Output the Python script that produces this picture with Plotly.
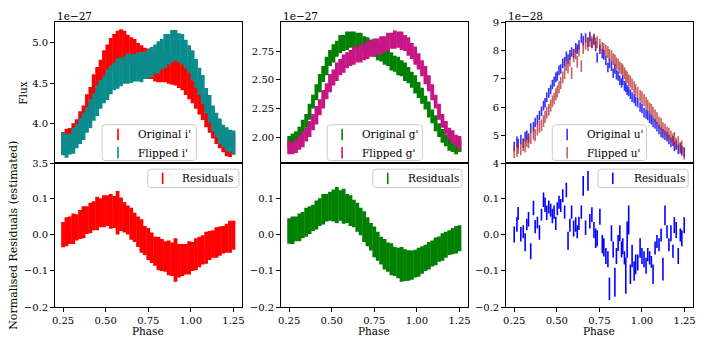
import plotly.graph_objects as go

# phase grid of the dense i' and g' light curves
phase = [0.25, 0.27, 0.29, 0.31, 0.33, 0.35, 0.37, 0.39, 0.41, 0.43,
         0.45, 0.47, 0.49, 0.51, 0.53, 0.55, 0.57, 0.59, 0.61, 0.63,
         0.65, 0.67, 0.69, 0.71, 0.73, 0.75, 0.77, 0.79, 0.81, 0.83,
         0.85, 0.87, 0.89, 0.91, 0.93, 0.95, 0.97, 0.99, 1.01, 1.03,
         1.05, 1.07, 1.09, 1.11, 1.13, 1.15, 1.17, 1.19, 1.21, 1.23, 1.25]

# i' flux (units of 1e-27)
i_orig = [3.76, 3.78, 3.80, 3.84, 3.90, 3.98, 4.06, 4.18, 4.28, 4.42,
          4.52, 4.62, 4.72, 4.80, 4.86, 4.92, 4.94, 4.97, 4.96, 4.92,
          4.90, 4.86, 4.82, 4.80, 4.76, 4.74, 4.72, 4.70, 4.70, 4.69,
          4.68, 4.68, 4.66, 4.64, 4.62, 4.58, 4.54, 4.48, 4.42, 4.36,
          4.28, 4.20, 4.12, 4.04, 3.96, 3.90, 3.84, 3.78, 3.74, 3.72, 3.74]
i_orig_err = [0.13, 0.15, 0.14, 0.16, 0.15, 0.17, 0.16, 0.18, 0.17, 0.19,
              0.18, 0.17, 0.19, 0.18, 0.20, 0.19, 0.21, 0.20, 0.19, 0.18,
              0.17, 0.19, 0.18, 0.17, 0.18, 0.19, 0.17, 0.18, 0.19, 0.18,
              0.17, 0.19, 0.18, 0.17, 0.18, 0.17, 0.19, 0.18, 0.17, 0.18,
              0.17, 0.16, 0.17, 0.16, 0.15, 0.16, 0.15, 0.14, 0.15, 0.14, 0.13]
i_flip = [3.74, 3.72, 3.74, 3.78, 3.84, 3.90, 3.96, 4.04, 4.12, 4.20,
          4.28, 4.36, 4.42, 4.48, 4.54, 4.58, 4.62, 4.64, 4.66, 4.68,
          4.68, 4.69, 4.70, 4.70, 4.72, 4.74, 4.76, 4.80, 4.82, 4.86,
          4.90, 4.92, 4.96, 4.97, 4.94, 4.92, 4.86, 4.80, 4.72, 4.62,
          4.52, 4.42, 4.28, 4.18, 4.06, 3.98, 3.90, 3.84, 3.80, 3.78, 3.76]
i_flip_err = [0.14, 0.15, 0.13, 0.16, 0.15, 0.16, 0.17, 0.16, 0.18, 0.17,
              0.19, 0.18, 0.17, 0.19, 0.18, 0.17, 0.19, 0.18, 0.17, 0.19,
              0.18, 0.17, 0.18, 0.19, 0.17, 0.18, 0.19, 0.18, 0.20, 0.19,
              0.21, 0.19, 0.20, 0.19, 0.18, 0.19, 0.18, 0.17, 0.19, 0.18,
              0.17, 0.18, 0.16, 0.17, 0.16, 0.15, 0.16, 0.14, 0.15, 0.14, 0.15]

# g' flux (units of 1e-27)
g_orig = [1.96, 1.97, 2.00, 2.03, 2.08, 2.14, 2.22, 2.31, 2.39, 2.47,
          2.55, 2.62, 2.69, 2.73, 2.77, 2.81, 2.82, 2.84, 2.85, 2.84,
          2.84, 2.83, 2.81, 2.79, 2.78, 2.77, 2.75, 2.73, 2.71, 2.69,
          2.66, 2.64, 2.62, 2.60, 2.57, 2.54, 2.50, 2.46, 2.41, 2.36,
          2.30, 2.24, 2.18, 2.12, 2.06, 2.01, 1.97, 1.94, 1.92, 1.91, 1.92]
g_orig_err = [0.05, 0.06, 0.05, 0.06, 0.07, 0.06, 0.07, 0.06, 0.07, 0.08,
              0.07, 0.08, 0.07, 0.08, 0.07, 0.08, 0.07, 0.08, 0.07, 0.08,
              0.07, 0.08, 0.07, 0.08, 0.07, 0.07, 0.08, 0.07, 0.08, 0.07,
              0.08, 0.07, 0.08, 0.07, 0.08, 0.07, 0.07, 0.08, 0.07, 0.07,
              0.06, 0.07, 0.06, 0.07, 0.06, 0.06, 0.05, 0.06, 0.05, 0.06, 0.05]
g_flip = [1.91, 1.90, 1.92, 1.95, 1.98, 2.02, 2.07, 2.13, 2.19, 2.26,
          2.33, 2.40, 2.47, 2.52, 2.57, 2.61, 2.64, 2.67, 2.69, 2.71,
          2.72, 2.73, 2.74, 2.76, 2.77, 2.78, 2.79, 2.80, 2.81, 2.83,
          2.84, 2.85, 2.85, 2.84, 2.82, 2.79, 2.75, 2.71, 2.66, 2.60,
          2.54, 2.47, 2.39, 2.31, 2.22, 2.14, 2.08, 2.03, 2.00, 1.97, 1.95]
g_flip_err = [0.06, 0.05, 0.06, 0.06, 0.07, 0.06, 0.07, 0.07, 0.08, 0.07,
              0.08, 0.07, 0.08, 0.07, 0.08, 0.07, 0.08, 0.07, 0.07, 0.08,
              0.07, 0.08, 0.07, 0.08, 0.07, 0.08, 0.07, 0.08, 0.07, 0.08,
              0.07, 0.08, 0.07, 0.08, 0.07, 0.08, 0.07, 0.08, 0.07, 0.07,
              0.08, 0.07, 0.07, 0.06, 0.07, 0.06, 0.06, 0.05, 0.06, 0.05, 0.06]

# normalised residuals of i' and g'
res_i = [0.000, 0.008, 0.012, 0.016, 0.020, 0.028, 0.034, 0.040, 0.046, 0.052,
         0.058, 0.060, 0.064, 0.066, 0.064, 0.062, 0.060, 0.056, 0.048, 0.040,
         0.030, 0.020, 0.008, -0.004, -0.016, -0.026, -0.036, -0.046, -0.052, -0.056,
         -0.060, -0.064, -0.068, -0.070, -0.072, -0.070, -0.068, -0.064, -0.060, -0.054,
         -0.048, -0.042, -0.036, -0.030, -0.026, -0.022, -0.018, -0.014, -0.010, -0.006, -0.002]
res_i_err = [0.035, 0.040, 0.038, 0.042, 0.036, 0.040, 0.044, 0.038, 0.042, 0.040,
             0.046, 0.040, 0.044, 0.042, 0.048, 0.044, 0.060, 0.046, 0.042, 0.040,
             0.044, 0.040, 0.042, 0.046, 0.040, 0.044, 0.042, 0.040, 0.046, 0.044,
             0.042, 0.048, 0.046, 0.060, 0.046, 0.044, 0.042, 0.046, 0.040, 0.044,
             0.042, 0.040, 0.044, 0.040, 0.038, 0.042, 0.040, 0.038, 0.040, 0.044, 0.040]
res_g = [0.010, 0.012, 0.016, 0.020, 0.026, 0.034, 0.040, 0.046, 0.054, 0.062,
         0.070, 0.074, 0.078, 0.080, 0.081, 0.080, 0.078, 0.072, 0.066, 0.058,
         0.048, 0.036, 0.022, 0.008, -0.006, -0.020, -0.032, -0.044, -0.054, -0.062,
         -0.068, -0.074, -0.078, -0.082, -0.084, -0.085, -0.084, -0.080, -0.076, -0.070,
         -0.064, -0.058, -0.052, -0.046, -0.040, -0.034, -0.028, -0.022, -0.018, -0.014, -0.010]
res_g_err = [0.035, 0.038, 0.034, 0.038, 0.036, 0.040, 0.038, 0.036, 0.040, 0.038,
             0.042, 0.038, 0.040, 0.044, 0.050, 0.042, 0.048, 0.040, 0.042, 0.038,
             0.040, 0.038, 0.042, 0.040, 0.038, 0.042, 0.040, 0.038, 0.042, 0.040,
             0.044, 0.040, 0.042, 0.048, 0.044, 0.042, 0.040, 0.038, 0.040, 0.038,
             0.036, 0.038, 0.036, 0.038, 0.035, 0.038, 0.036, 0.034, 0.036, 0.038, 0.036]

# u' is sparser: individual points
phase_u = [0.250, 0.266, 0.273, 0.289, 0.303, 0.314, 0.324, 0.334, 0.347, 0.363,
           0.373, 0.386, 0.398, 0.410, 0.422, 0.431, 0.441, 0.453, 0.464, 0.474,
           0.484, 0.494, 0.503, 0.513, 0.523, 0.535, 0.546, 0.556, 0.566, 0.577,
           0.587, 0.599, 0.611, 0.620, 0.630, 0.644, 0.655, 0.669, 0.683, 0.694,
           0.706, 0.718, 0.728, 0.737, 0.753, 0.767, 0.776, 0.788, 0.800, 0.809,
           0.821, 0.831, 0.841, 0.850, 0.860, 0.870, 0.880, 0.887, 0.897, 0.905,
           0.913, 0.922, 0.932, 0.942, 0.954, 0.963, 0.975, 0.989, 1.000, 1.012,
           1.024, 1.034, 1.045, 1.055, 1.065, 1.077, 1.088, 1.100, 1.112, 1.123,
           1.135, 1.147, 1.158, 1.170, 1.182, 1.190, 1.201, 1.213, 1.225, 1.234, 1.248]
# u' flux (units of 1e-28)
u_orig = [4.60, 4.78, 4.70, 4.85, 4.72, 4.95, 5.00, 4.90, 5.25, 5.30,
          5.45, 5.55, 5.70, 5.85, 6.05, 6.15, 6.35, 6.50, 6.62, 6.80,
          6.90, 7.05, 7.10, 7.30, 7.35, 7.55, 7.60, 7.80, 7.70, 7.85,
          7.95, 7.90, 8.10, 8.05, 8.20, 8.45, 8.35, 8.45, 8.30, 8.50,
          8.25, 8.40, 8.15, 7.75, 8.05, 7.90, 7.85, 7.65, 7.40, 7.55,
          7.45, 7.20, 7.35, 7.15, 7.10, 6.95, 6.85, 6.95, 6.75, 6.70,
          6.60, 6.55, 6.45, 6.35, 6.30, 6.20, 6.15, 6.00, 5.95, 5.80,
          5.75, 5.70, 5.60, 5.55, 5.45, 5.40, 5.30, 5.20, 5.10, 5.05,
          5.00, 4.95, 4.85, 4.75, 4.80, 4.60, 4.65, 4.50, 4.55, 4.45, 4.40]
u_flip = [4.40, 4.45, 4.55, 4.50, 4.65, 4.60, 4.80, 4.75, 4.90, 5.05,
          5.00, 5.20, 5.30, 5.35, 5.50, 5.65, 5.80, 5.90, 6.05, 6.20,
          6.30, 6.45, 6.55, 6.70, 6.85, 7.05, 7.20, 7.50, 7.40, 7.65,
          7.20, 7.80, 7.90, 7.60, 8.00, 7.45, 8.10, 8.25, 8.20, 8.35,
          8.30, 8.40, 8.25, 8.30, 8.20, 8.10, 8.05, 8.00, 7.95, 7.85,
          7.80, 7.70, 7.65, 7.55, 7.50, 7.40, 7.35, 7.30, 7.20, 7.10,
          7.05, 6.95, 6.90, 6.80, 6.70, 6.60, 6.50, 6.40, 6.35, 6.25,
          6.15, 6.05, 5.95, 5.90, 5.80, 5.70, 5.60, 5.45, 5.40, 5.25,
          5.20, 5.10, 5.05, 4.95, 4.85, 4.90, 4.70, 4.75, 4.55, 4.60, 4.35]
u_orig_err = 0.17
u_flip_err = 0.21
res_u = [0.000, 0.028, 0.058, 0.001, 0.008, -0.021, 0.028, 0.042, -0.046, 0.073,
         0.022, 0.033, 0.006, 0.055, 0.096, 0.082, 0.060, 0.076, 0.067, 0.051,
         0.062, 0.031, 0.071, 0.089, 0.080, 0.107, 0.062, 0.123, -0.017, 0.026,
         0.062, 0.017, 0.028, 0.008, 0.031, 0.062, 0.134, 0.019, 0.148, 0.037,
         0.055, 0.013, -0.010, -0.010, 0.049, -0.026, -0.035, -0.059, -0.068, -0.149,
         0.004, -0.041, -0.131, -0.059, -0.023, 0.004, -0.041, -0.032, -0.064, -0.113,
         -0.014, 0.040, -0.109, -0.059, -0.100, -0.082, -0.077, -0.037, -0.059, -0.068,
         -0.086, -0.055, -0.064, -0.075, -0.109, -0.037, -0.019, -0.028, -0.001, -0.095,
         0.053, 0.008, -0.028, 0.004, -0.046, 0.026, 0.013, -0.059, -0.001, -0.010, 0.026]
res_u_err = [0.022, 0.020, 0.018, 0.020, 0.018, 0.025, 0.016, 0.020, 0.022, 0.020,
             0.018, 0.016, 0.020, 0.016, 0.020, 0.020, 0.020, 0.018, 0.018, 0.020,
             0.018, 0.018, 0.018, 0.018, 0.018, 0.018, 0.018, 0.020, 0.025, 0.018,
             0.018, 0.022, 0.020, 0.018, 0.018, 0.018, 0.027, 0.020, 0.027, 0.020,
             0.020, 0.022, 0.027, 0.022, 0.022, 0.025, 0.025, 0.022, 0.022, 0.031,
             0.022, 0.022, 0.040, 0.022, 0.022, 0.022, 0.022, 0.022, 0.018, 0.050,
             0.050, 0.040, 0.027, 0.031, 0.027, 0.027, 0.022, 0.027, 0.022, 0.022,
             0.022, 0.018, 0.018, 0.016, 0.027, 0.018, 0.018, 0.018, 0.018, 0.031,
             0.027, 0.018, 0.018, 0.022, 0.018, 0.022, 0.022, 0.022, 0.018, 0.022, 0.022]

RED = '#ff0000'
TEAL = '#0a8c8c'
GREEN = '#008000'
PINK = '#c71585'
BLUE = 'rgba(0,0,255,0.8)'
BROWN = 'rgba(178,34,34,0.72)'
FONT = 'DejaVu Serif'
W, H = 706, 349

fig = go.Figure()


def bars(x, y, err, color, xa, ya, thick):
    if isinstance(err, list):
        ey = dict(type='data', array=err)
    else:
        ey = dict(type='constant', value=err)
    ey.update(width=0, thickness=thick, color=color)
    fig.add_trace(go.Scatter(x=x, y=y, mode='markers', marker=dict(size=0.1, color=color),
                             error_y=ey, showlegend=False, xaxis=xa, yaxis=ya, hoverinfo='skip'))


bars(phase, i_orig, i_orig_err, RED, 'x', 'y', 3.8)
bars(phase, i_flip, i_flip_err, TEAL, 'x', 'y', 3.8)
bars(phase, g_orig, g_orig_err, GREEN, 'x2', 'y2', 3.8)
bars(phase, g_flip, g_flip_err, PINK, 'x2', 'y2', 3.8)
bars(phase_u, u_orig, u_orig_err, BLUE, 'x3', 'y3', 1.6)
bars(phase_u, u_flip, u_flip_err, BROWN, 'x3', 'y3', 1.6)
bars(phase, res_i, res_i_err, RED, 'x4', 'y4', 3.8)
bars(phase, res_g, res_g_err, GREEN, 'x5', 'y5', 3.8)
bars(phase_u, res_u, res_u_err, 'blue', 'x6', 'y6', 1.6)

cols = [(52, 241), (280, 469), (507, 696)]
top_rows = (17, 163)
bot_rows = (163, 312)

axis_style = dict(showline=True, linecolor='black', linewidth=1, mirror=True, showgrid=False,
                  zeroline=False, ticks='outside', ticklen=3.5, tickwidth=0.8, tickcolor='black',
                  ticklabeloverflow='allow', tickfont=dict(family=FONT, size=10, color='black'))

layout = {}
xt = [0.25, 0.5, 0.75, 1.0, 1.25]
for k, (x0, x1) in enumerate(cols):
    dom = [x0 / W, x1 / W]
    layout['xaxis' + ('' if k == 0 else str(k + 1))] = dict(
        axis_style, domain=dom, range=[0.2, 1.3], anchor='y' + ('' if k == 0 else str(k + 1)),
        showticklabels=False, ticks='')
    layout['xaxis' + str(k + 4)] = dict(
        axis_style, domain=dom, range=[0.2, 1.3], anchor='y' + str(k + 4),
        tickvals=xt, ticktext=['0.25', '0.50', '0.75', '1.00', '1.25'])
    layout['yaxis' + str(k + 4)] = dict(
        axis_style, domain=[1 - bot_rows[1] / H, 1 - bot_rows[0] / H], range=[-0.2, 0.196],
        anchor='x' + str(k + 4), tickvals=[-0.2, -0.1, 0.0, 0.1],
        ticktext=['\u22120.2', '\u22120.1', '0.0', '0.1'])

top_dom = [1 - top_rows[1] / H, 1 - top_rows[0] / H]
layout['yaxis'] = dict(axis_style, domain=top_dom, range=[3.5, 5.255], anchor='x',
                       tickvals=[3.5, 4.0, 4.5, 5.0], ticktext=['3.5', '4.0', '4.5', '5.0'])
layout['yaxis2'] = dict(axis_style, domain=top_dom, range=[1.77, 3.0], anchor='x2',
                        tickvals=[2.0, 2.25, 2.5, 2.75], ticktext=['2.00', '2.25', '2.50', '2.75'])
layout['yaxis3'] = dict(axis_style, domain=top_dom, range=[4, 9], anchor='x3',
                        tickvals=[4, 5, 6, 7, 8, 9], ticktext=['4', '5', '6', '7', '8', '9'])

# legends drawn by hand (matplotlib style boxes with errorbar keys)
shapes = []
ann = []
txt = dict(family=FONT, size=10.5, color='black')


def px(x):
    return x / W


def py(y):
    return 1 - y / H


def legend_box(x0, y0, x1, y1, entries):
    r = 3
    path = (f"M {px(x0 + r)},{py(y0)} L {px(x1 - r)},{py(y0)} Q {px(x1)},{py(y0)} {px(x1)},{py(y0 + r)} "
            f"L {px(x1)},{py(y1 - r)} Q {px(x1)},{py(y1)} {px(x1 - r)},{py(y1)} "
            f"L {px(x0 + r)},{py(y1)} Q {px(x0)},{py(y1)} {px(x0)},{py(y1 - r)} "
            f"L {px(x0)},{py(y0 + r)} Q {px(x0)},{py(y0)} {px(x0 + r)},{py(y0)} Z")
    shapes.append(dict(type='path', path=path, xref='paper', yref='paper',
                       fillcolor='rgba(255,255,255,0.8)', line=dict(color='#cccccc', width=1)))
    for kx, tx, yc, label, color in entries:
        shapes.append(dict(type='line', xref='paper', yref='paper', x0=px(kx), x1=px(kx),
                           y0=py(yc - 6), y1=py(yc + 6), line=dict(color=color, width=1.6)))
        ann.append(dict(x=px(tx), y=py(yc), text=label, showarrow=False, xanchor='left',
                        yanchor='middle', xref='paper', yref='paper', font=txt))


legend_box(100, 123, 195, 160, [(116, 134, 133, "Original i'", RED), (116, 134, 152, "Flipped i'", TEAL)])
legend_box(327, 123, 423, 160, [(342, 360, 133, "Original g'", GREEN), (342, 360, 152, "Flipped g'", PINK)])
legend_box(554, 123, 649, 160, [(569, 587, 133, "Original u'", BLUE), (569, 587, 152, "Flipped u'", BROWN)])
legend_box(146, 169, 238, 188, [(161, 179, 178.5, "Residuals", RED)])
legend_box(373, 169, 463, 188, [(388, 406, 178.5, "Residuals", GREEN)])
legend_box(600, 169, 691, 188, [(615, 634, 178.5, "Residuals", 'blue')])

for (x0, x1), lab in zip(cols, ['1e\u221227', '1e\u221227', '1e\u221228']):
    ann.append(dict(x=px(x0), y=py(10), text=lab, showarrow=False, xanchor='left',
                    yanchor='middle', xref='paper', yref='paper', font=txt))
    ann.append(dict(x=px((x0 + x1) / 2), y=py(337), text='Phase', showarrow=False,
                    xanchor='center', yanchor='middle', xref='paper', yref='paper', font=txt))
ann.append(dict(x=px(20), y=py(90), text='Flux', textangle=-90, showarrow=False,
                xanchor='center', yanchor='middle', xref='paper', yref='paper', font=txt))
ann.append(dict(x=px(11), y=py(237), text='Normalised Residuals (estimated)', textangle=-90,
                showarrow=False, xanchor='center', yanchor='middle', xref='paper', yref='paper',
                font=dict(txt, size=11)))

fig.update_layout(layout)
fig.update_layout(width=W, height=H, margin=dict(l=0, r=0, t=0, b=0),
                  paper_bgcolor='white', plot_bgcolor='white', annotations=ann, shapes=shapes,
                  showlegend=False, font=dict(family=FONT, size=10, color='black'))
fig.write_html("out.html", config={'displayModeBar': False},
               post_script="document.body.style.margin='0';")
